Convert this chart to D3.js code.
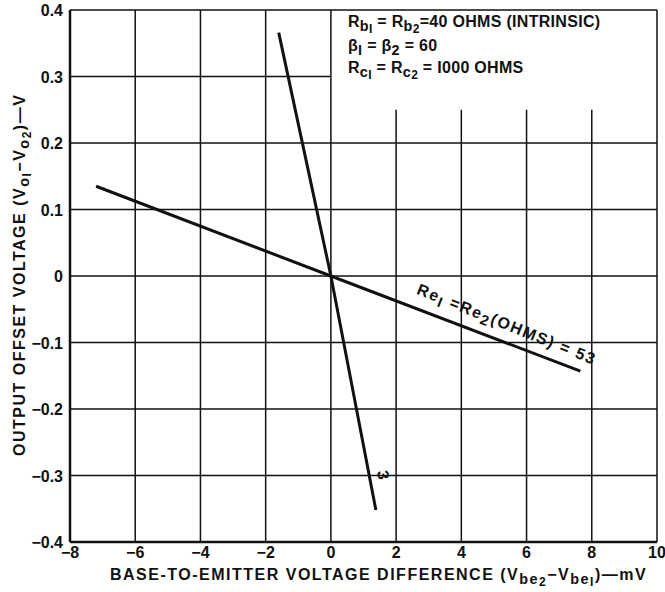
<!DOCTYPE html>
<html>
<head>
<meta charset="utf-8">
<script src="https://cdn.jsdelivr.net/npm/d3@7"></script>
<style>
  body { margin: 0; background: #fff; }
  svg text { font-family: "Liberation Sans", Arial, sans-serif; font-weight: bold; fill: #111; }
</style>
</head>
<body>
<div id="chart"></div>
<script>
// axis ticks
const xTicks = [-8, -6, -4, -2, 0, 2, 4, 6, 8, 10];
const yTicks = [-0.4, -0.3, -0.2, -0.1, 0, 0.1, 0.2, 0.3, 0.4];

// the two transfer lines (mV, V)
const line53 = [[-7.2, 0.135], [0, 0], [7.65, -0.143]];
const line3 = [[-1.6, 0.366], [0, 0], [1.38, -0.352]];

// grid gaps: the note box covers x 0..10, y 0.25..0.4
const boxX = 0, boxY = 0.25;

const W = 665, H = 592;
const margin = {left: 70, right: 8, top: 10, bottom: 50};

const svg = d3.select("#chart").append("svg")
  .attr("width", W).attr("height", H);

const x = d3.scaleLinear().domain([-8, 10]).range([margin.left, W - margin.right]);
const y = d3.scaleLinear().domain([-0.4, 0.4]).range([H - margin.bottom, margin.top]);

const ink = "#111";
const grid = svg.append("g").attr("stroke", ink).attr("stroke-width", 1.5);

// vertical grid lines
xTicks.forEach(t => {
  const top = t > boxX && t < 10 ? y(boxY) : y(0.4);
  grid.append("line")
    .attr("x1", x(t)).attr("x2", x(t))
    .attr("y1", top).attr("y2", y(-0.4));
});
// horizontal grid lines
yTicks.forEach(t => {
  const right = t > boxY && t < 0.4 ? x(boxX) : x(10);
  grid.append("line")
    .attr("x1", x(-8)).attr("x2", right)
    .attr("y1", y(t)).attr("y2", y(t));
});
// heavier left and bottom axes
svg.append("line").attr("x1", x(-8)).attr("x2", x(-8)).attr("y1", y(0.4)).attr("y2", y(-0.4))
  .attr("stroke", ink).attr("stroke-width", 2.5);
svg.append("line").attr("x1", x(-8)).attr("x2", x(10)).attr("y1", y(-0.4)).attr("y2", y(-0.4))
  .attr("stroke", ink).attr("stroke-width", 2.5);

// tick labels
const fmtY = d => d === 0 ? "0" : d3.format(".1f")(d).replace("-", "\u2212");
svg.append("g").selectAll("text").data(yTicks).join("text")
  .attr("x", x(-8) - 7).attr("y", d => y(d) + 6)
  .attr("text-anchor", "end").style("font-size", "16px")
  .text(fmtY);
svg.append("g").selectAll("text").data(xTicks).join("text")
  .attr("x", d => x(d)).attr("y", H - 34)
  .attr("text-anchor", "middle").style("font-size", "16px")
  .text(d => d < 0 ? "\u2212" + Math.abs(d) : d);

// data lines
const line = d3.line().x(d => x(d[0])).y(d => y(d[1]));
[line53, line3].forEach(pts => {
  svg.append("path").datum(pts).attr("d", line)
    .attr("fill", "none").attr("stroke", ink).attr("stroke-width", 3);
});

// text with subscripts: segments [text, level]
const levelShift = [0, 0.25, 0.4];
function rich(sel, segs, size) {
  let lvl = 0;
  segs.forEach(([t, l]) => {
    const shift = (levelShift[l] - levelShift[lvl]) * size;
    const fs = l === 0 ? size : l === 1 ? size * 0.9 : size * 0.75;
    sel.append("tspan").attr("dy", shift).style("font-size", fs + "px").text(t);
    lvl = l;
  });
  return sel;
}

// axis titles
rich(svg.append("text").attr("x", 110).attr("y", 580).style("letter-spacing", "1.5px"),
  [["BASE-TO-EMITTER VOLTAGE DIFFERENCE (V", 0], ["be", 1], ["2", 2], ["\u2212V", 0], ["be", 1], ["I", 2], [")\u2014mV", 0]], 16);

rich(svg.append("text").attr("transform", "translate(25,456) rotate(-90)").style("letter-spacing", "1.5px"),
  [["OUTPUT OFFSET VOLTAGE (V", 0], ["o", 1], ["I", 2], ["\u2212V", 0], ["o", 1], ["2", 2], [")\u2014V", 0]], 16);

// notes box
const notes = svg.append("g").style("letter-spacing", "0.3px");
rich(notes.append("text").attr("x", 348).attr("y", 27),
  [["R", 0], ["b", 1], ["I", 2], [" = R", 0], ["b", 1], ["2", 2], ["=40 OHMS (INTRINSIC)", 0]], 16);
rich(notes.append("text").attr("x", 348).attr("y", 51),
  [["\u03b2", 0], ["I", 1], [" = \u03b2", 0], ["2", 1], [" = 60", 0]], 16);
rich(notes.append("text").attr("x", 348).attr("y", 73),
  [["R", 0], ["c", 1], ["I", 2], [" = R", 0], ["c", 1], ["2", 2], [" = I000 OHMS", 0]], 16);

// line labels
const ang53 = Math.atan2(y(line53[2][1]) - y(line53[0][1]), x(line53[2][0]) - x(line53[0][0])) * 180 / Math.PI;
rich(svg.append("text").attr("transform", `translate(${x(2.6)},${y(-0.049) - 15}) rotate(${ang53 + 1})`)
    .style("letter-spacing", "1.6px"),
  [["Re", 0], ["I", 1], [" =Re", 0], ["2", 1], ["(OHMS) = 53", 0]], 16);

svg.append("text").attr("transform", `translate(${x(1.32) + 3},${y(-0.3) - 4}) rotate(80)`)
  .style("font-size", "16px").text("3");
</script>
</body>
</html>
